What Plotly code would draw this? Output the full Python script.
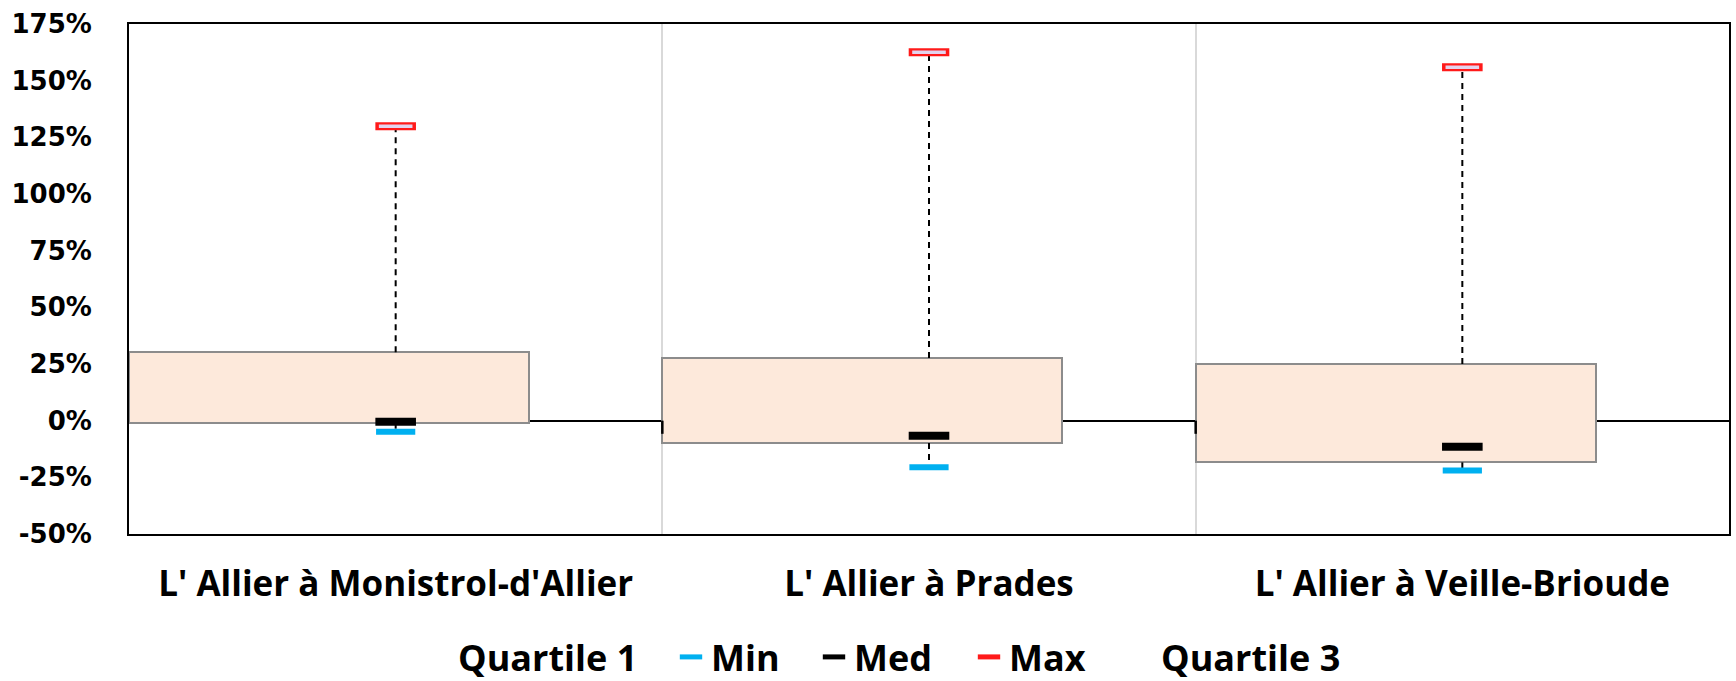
import numpy as np
import plotly.graph_objects as go

# Stations and summary statistics (percent)
stations = ["L' Allier à Monistrol-d'Allier", "L' Allier à Prades", "L' Allier à Veille-Brioude"]
q1 = [-0.9, -9.9, -18.4]
q3 = [30.2, 27.7, 25.0]
v_min = [-4.9, -20.5, -22.0]
v_med = [-0.5, -6.6, -11.5]
v_max = [129.9, 162.5, 155.9]

y_ticks = [-50, -25, 0, 25, 50, 75, 100, 125, 150, 175]
y_tick_labels = ["-50%", "-25%", "0%", "25%", "50%", "75%", "100%", "125%", "150%", "175%"]

W, H = 1736, 681
LEG_FONT = dict(family="Open Sans", size=36, color="black", weight="bold")

fig = go.Figure()

# Interquartile boxes, drawn in the left three quarters of each category
fig.add_trace(go.Bar(
    x=stations, y=np.array(q3) - np.array(q1), base=q1,
    width=0.75, offset=-0.5,
    marker=dict(color="#FDE9DB", line=dict(color="#8C8C8C", width=2)),
    showlegend=False, hoverinfo="skip",
))

# Dashed whiskers: Q3 -> max and Q1 -> min
wx, wy = [], []
for s, a, b, c, d in zip(stations, q3, v_max, q1, v_min):
    wx += [s, s, None, s, s, None]
    wy += [a, b, None, c, d, None]
fig.add_trace(go.Scatter(
    x=wx, y=wy, mode="lines",
    line=dict(color="black", width=2, dash="6px,5px"),
    showlegend=False, hoverinfo="skip",
))

# Legend-only entry for the lower quartile (no visible key)
fig.add_trace(go.Scatter(
    x=[None], y=[None], mode="markers", name="Quartile 1", legend="legend",
    marker=dict(color="rgba(0,0,0,0)", size=1),
))

fig.add_trace(go.Scatter(
    x=stations, y=v_min, mode="markers", name="Min", legend="legend2",
    marker=dict(symbol="line-ew", size=28, line=dict(color="#00B0F0", width=6)),
))
fig.add_trace(go.Scatter(
    x=stations, y=v_med, mode="markers", name="Med", legend="legend3",
    marker=dict(symbol="line-ew", size=29, line=dict(color="black", width=8)),
))
fig.add_trace(go.Scatter(
    x=stations, y=v_max, mode="markers", name="Max", legend="legend4",
    marker=dict(symbol="line-ew", size=29, line=dict(color="#FF1A1A", width=8)),
))
fig.add_trace(go.Scatter(
    x=stations, y=v_max, mode="markers", showlegend=False, hoverinfo="skip",
    marker=dict(symbol="line-ew", size=24, line=dict(color="#E3D3EE", width=3.5)),
))

fig.add_trace(go.Scatter(
    x=[None], y=[None], mode="markers", name="Quartile 3", legend="legend5",
    marker=dict(color="rgba(0,0,0,0)", size=1),
))

# Short tick marks on the zero line at the category boundaries
for xb in (0.5, 1.5):
    fig.add_shape(type="line", xref="x", yref="y", x0=xb, x1=xb, y0=0, y1=-5.8,
                  line=dict(color="black", width=2.5), layer="above")


def legend_at(text_left_px):
    # one single-entry legend, positioned in the container by its text's left edge
    return dict(
        orientation="h", xref="container", yref="container",
        x=(text_left_px - 45) / W, xanchor="left",
        y=1 - 657 / H, yanchor="middle",
        font=LEG_FONT, itemsizing="trace", bgcolor="rgba(0,0,0,0)",
        itemwidth=30,
    )


fig.update_layout(
    width=W, height=H,
    margin=dict(l=129, r=5, t=24, b=147),
    plot_bgcolor="white", paper_bgcolor="white",
    bargap=0,
    showlegend=True,
    legend=legend_at(463),
    legend2=legend_at(716),
    legend3=legend_at(859),
    legend4=legend_at(1014),
    legend5=legend_at(1166),
    xaxis=dict(
        type="category", range=[-0.5, 2.5],
        tickson="boundaries", ticks="",
        showgrid=True, gridcolor="#D9D9D9", gridwidth=2,
        showline=True, linecolor="black", linewidth=2, mirror=True,
        tickfont=dict(family="Open Sans", size=35, color="black", weight="bold"),
        ticklabelstandoff=18,
    ),
    yaxis=dict(
        range=[-50, 175], tickvals=y_ticks, ticktext=y_tick_labels,
        showgrid=False, zeroline=True, zerolinecolor="black", zerolinewidth=2,
        showline=True, linecolor="black", linewidth=2, mirror=True,
        ticks="", ticklabelstandoff=30,
        tickfont=dict(family="DejaVu Sans", size=26, color="black", weight="bold"),
    ),
)

fig.write_html("out.html")
